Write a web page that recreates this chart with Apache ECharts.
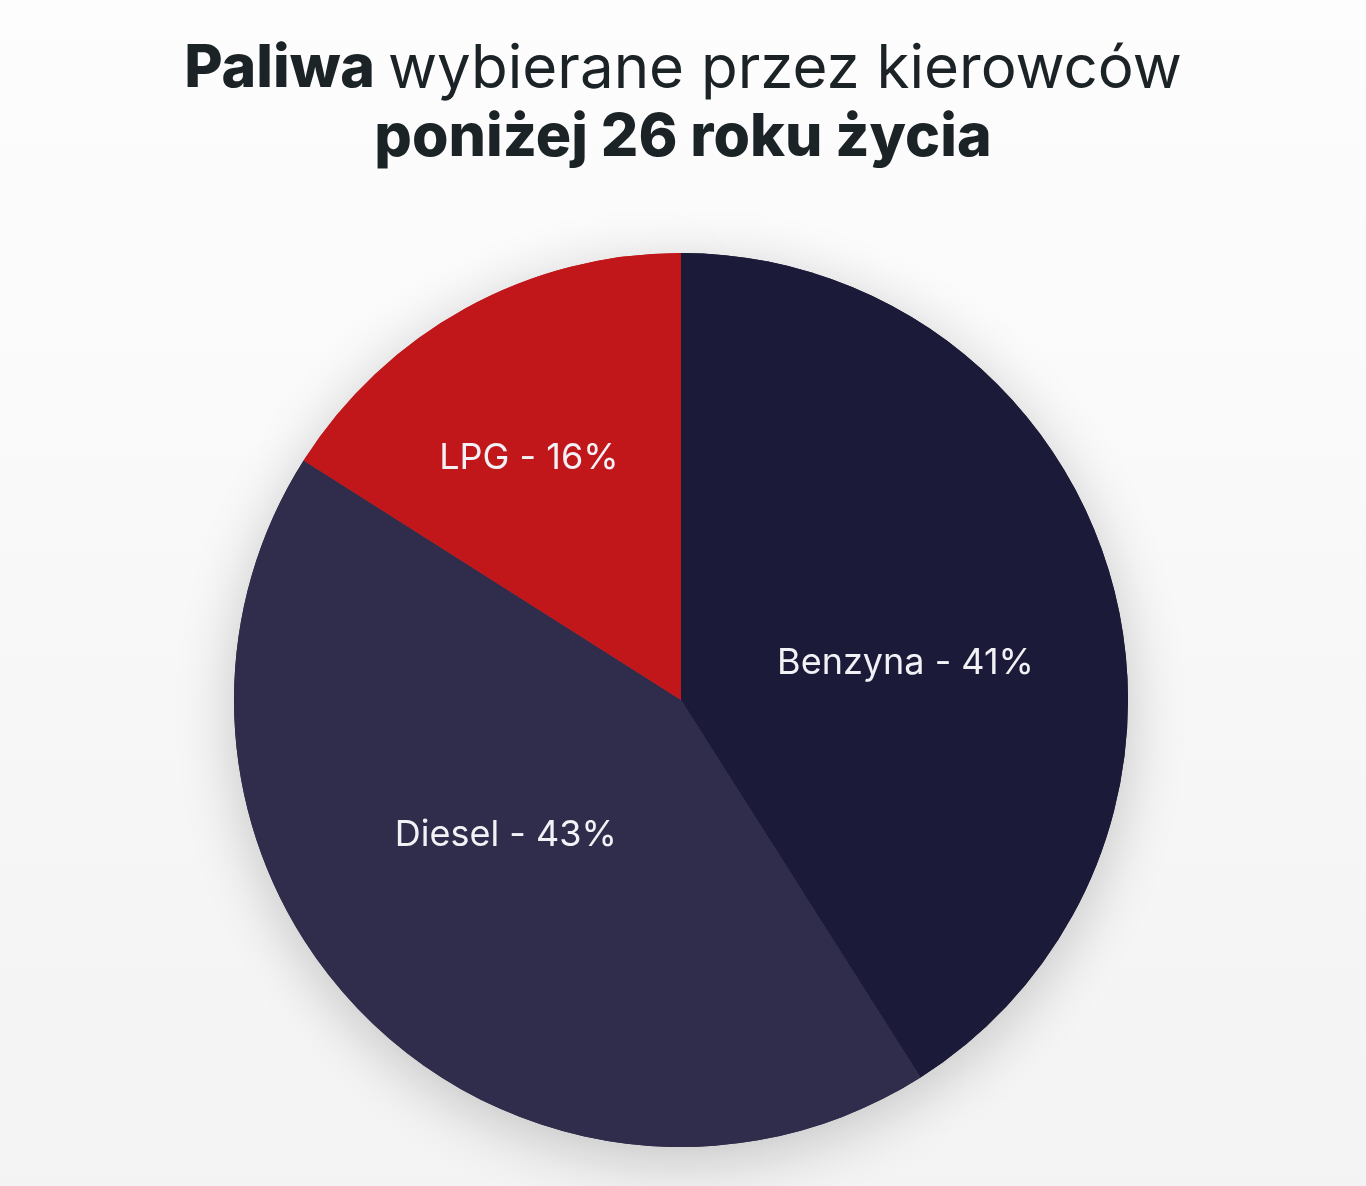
<!DOCTYPE html>
<html>
<head>
<meta charset="utf-8">
<script src="https://cdn.jsdelivr.net/npm/echarts@6/dist/echarts.min.js"></script>
<style>
html,body{margin:0;padding:0;background:#f7f7f7;}
#chart{width:1366px;height:1186px;}
</style>
</head>
<body>
<div id="chart"></div>
<script>
const titleBold1 = 'Paliwa';
const titleRegular1 = 'wybierane przez kierowców';
const titleBold2 = 'poniżej 26 roku życia';
const categories = ['Benzyna', 'Diesel', 'LPG'];
const shares = [41, 43, 16];
const colors = ['#1b1a38', '#2f2d4b', '#c1171b'];
const labelOffsets = [[7, 26], [-15, -25], [-43, -43]];

const chart = echarts.init(document.getElementById('chart'));
const fontFamily = 'Inter, "Noto Sans", sans-serif';

const pieData = categories.map((c, i) => ({
  name: c,
  value: shares[i],
  itemStyle: { color: colors[i] },
  label: { offset: labelOffsets[i] }
}));

chart.setOption({
  backgroundColor: {
    type: 'linear', x: 0, y: 0, x2: 0, y2: 1,
    colorStops: [{ offset: 0, color: '#fdfdfd' }, { offset: 1, color: '#f3f3f3' }]
  },
  title: {
    left: 'center',
    top: 30,
    text: '{b|' + titleBold1 + ' }{r|' + titleRegular1 + '}\n{b|' + titleBold2 + '}',
    textStyle: {
      rich: {
        b: { fontFamily: fontFamily, fontWeight: 800, fontSize: 59, lineHeight: 69, color: '#1b2326' },
        r: { fontFamily: fontFamily, fontWeight: 400, fontSize: 60, lineHeight: 69, color: '#1b2326' }
      }
    }
  },
  series: [
    {
      type: 'pie',
      silent: true,
      center: [681, 700],
      radius: 447,
      z: 1,
      label: { show: false },
      labelLine: { show: false },
      itemStyle: {
        borderWidth: 0,
        shadowBlur: 60,
        shadowColor: 'rgba(0,0,0,0.2)',
        shadowOffsetY: 12
      },
      data: categories.map((c, i) => ({ name: c, value: shares[i], itemStyle: { color: colors[i] } }))
    },
    {
      type: 'pie',
      center: [681, 700],
      radius: 447,
      z: 2,
      startAngle: 90,
      clockwise: true,
      avoidLabelOverlap: false,
      itemStyle: { borderWidth: 0 },
      emphasis: { disabled: true },
      label: {
        show: true,
        position: 'inside',
        formatter: p => p.name + ' - ' + p.value + '%',
        color: '#f2f2f6',
        fontFamily: fontFamily,
        fontWeight: 400,
        fontSize: 36
      },
      labelLine: { show: false },
      data: pieData
    }
  ]
});
</script>
</body>
</html>
